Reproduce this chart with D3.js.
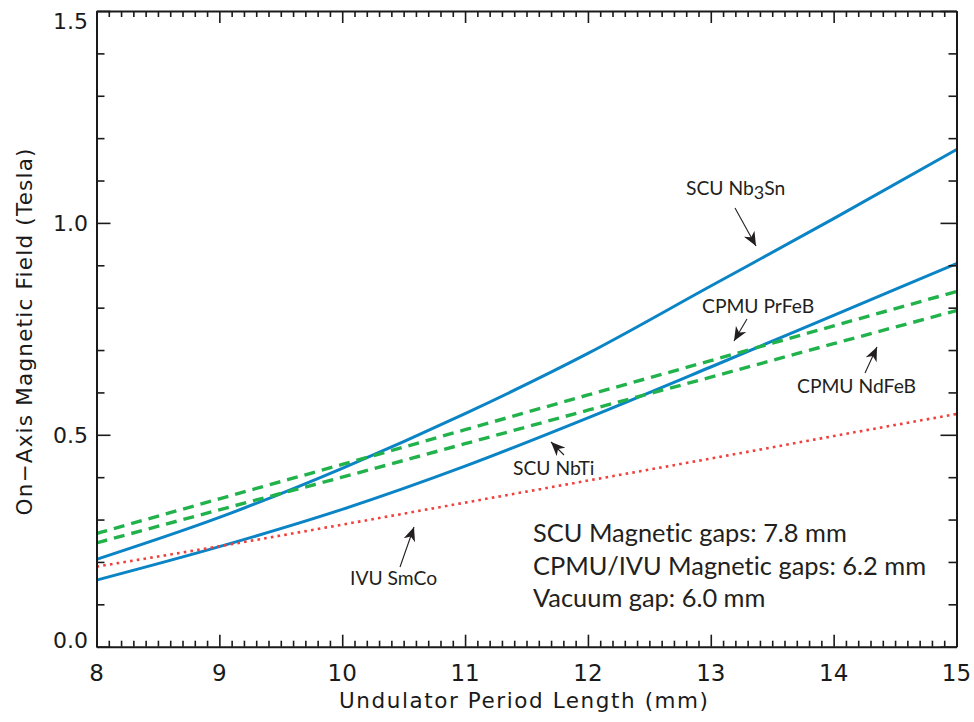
<!DOCTYPE html>
<html>
<head>
<meta charset="utf-8">
<script src="https://cdn.jsdelivr.net/npm/d3@7"></script>
<style>
  html, body { margin: 0; padding: 0; background: #fff; }
  svg { display: block; }
  text { font-variant-ligatures: none; font-feature-settings: "liga" 0; }
</style>
</head>
<body>
<div id="chart"></div>
<script>
// Undulator period (mm)
const periods = [8, 9, 10, 11, 12, 13, 14, 15];

// On-axis field (T) for each device
const scuNb3Sn  = [0.206, 0.305, 0.421, 0.550, 0.692, 0.851, 1.010, 1.173];
const scuNbTi   = [0.157, 0.236, 0.324, 0.426, 0.540, 0.660, 0.782, 0.904];
const cpmuPrFeB = [0.267, 0.349, 0.430, 0.512, 0.594, 0.675, 0.757, 0.838];
const cpmuNdFeB = [0.245, 0.323, 0.400, 0.479, 0.558, 0.636, 0.715, 0.793];
const ivuSmCo   = [0.189, 0.237, 0.288, 0.340, 0.392, 0.444, 0.497, 0.549];

const xTickLabels = [8, 9, 10, 11, 12, 13, 14, 15];
const yTickLabels = [0.0, 0.5, 1.0, 1.5];

const notes = [
  "SCU Magnetic gaps: 7.8 mm",
  "CPMU/IVU Magnetic gaps: 6.2 mm",
  "Vacuum gap: 6.0 mm"
];

const W = 974, H = 722;
const mLeft = 96.5, mRight = 956.5, mTop = 11, mBottom = 646.7;

const svg = d3.select("#chart").append("svg")
  .attr("width", W).attr("height", H);

const x = d3.scaleLinear().domain([8, 15]).range([mLeft, mRight]);
const y = d3.scaleLinear().domain([0, 1.5]).range([mBottom, mTop]);

const axisColor = "#1a1a1a";
const labelFont = "'DejaVu Sans', sans-serif";
const noteFont = "Lato, 'Open Sans', sans-serif";
const noteColor = "#231f20";

const defs = svg.append("defs");

// clip so curves stop at the frame
defs.append("clipPath").attr("id", "plotClip")
  .append("rect").attr("x", mLeft).attr("y", mTop)
  .attr("width", mRight - mLeft).attr("height", mBottom - mTop);

// ---- series ----
const series = [
  { vals: scuNb3Sn,  color: "#0b84c6", width: 3,   dash: null },
  { vals: scuNbTi,   color: "#0b84c6", width: 3,   dash: null },
  { vals: cpmuPrFeB, color: "#22b24c", width: 3.4, dash: "11,7" },
  { vals: cpmuNdFeB, color: "#22b24c", width: 3.4, dash: "11,7" },
  { vals: ivuSmCo,   color: "#f0403c", width: 2.6, dash: "2.6,4.2" }
];

const line = d3.line()
  .x(d => x(d[0])).y(d => y(d[1]))
  .curve(d3.curveMonotoneX);

const plot = svg.append("g").attr("clip-path", "url(#plotClip)");
series.forEach(s => {
  plot.append("path")
    .datum(periods.map((p, i) => [p, s.vals[i]]))
    .attr("d", line)
    .attr("fill", "none")
    .attr("stroke", s.color)
    .attr("stroke-width", s.width)
    .attr("stroke-dasharray", s.dash)
    .attr("stroke-linecap", "butt");
});

// ---- axes (frame with inward ticks on all four sides) ----
const xMinor = d3.range(80, 151).map(v => v / 10);
const yMinor = d3.range(0, 16).map(v => v / 10);

const bottomAxis = d3.axisBottom(x).tickValues(xMinor)
  .tickSizeInner(-6).tickSizeOuter(0).tickFormat("");
const topAxis = d3.axisTop(x).tickValues(xMinor)
  .tickSizeInner(-6).tickSizeOuter(0).tickFormat("");
const leftAxis = d3.axisLeft(y).tickValues(yMinor)
  .tickSizeInner(-8).tickSizeOuter(0).tickFormat("");
const rightAxis = d3.axisRight(y).tickValues(yMinor)
  .tickSizeInner(-8).tickSizeOuter(0).tickFormat("");

function styleAxis(g, majorTest, majorLen, dir) {
  g.select(".domain").attr("stroke", axisColor).attr("stroke-width", 2);
  g.selectAll(".tick line")
    .attr("stroke", axisColor).attr("stroke-width", 1.6)
    .each(function(d) {
      if (majorTest(d)) {
        const sel = d3.select(this);
        if (dir === "y") sel.attr("y2", majorLen); else sel.attr("x2", majorLen);
      }
    });
}
const isIntX = d => Math.abs(d - Math.round(d)) < 1e-6;
const isHalfY = d => Math.abs(d * 2 - Math.round(d * 2)) < 1e-6;

svg.append("g").attr("transform", `translate(0,${mBottom})`).call(bottomAxis)
  .call(g => styleAxis(g, isIntX, -12, "y"));
svg.append("g").attr("transform", `translate(0,${mTop})`).call(topAxis)
  .call(g => styleAxis(g, isIntX, 12, "y"));
svg.append("g").attr("transform", `translate(${mLeft},0)`).call(leftAxis)
  .call(g => styleAxis(g, isHalfY, 14, "x"));
svg.append("g").attr("transform", `translate(${mRight},0)`).call(rightAxis)
  .call(g => styleAxis(g, isHalfY, -16, "x"));

// tick labels
svg.append("g").selectAll("text").data(xTickLabels).join("text")
  .attr("x", d => x(d)).attr("y", 681)
  .attr("text-anchor", "middle")
  .attr("font-family", labelFont).attr("font-size", 23)
  .attr("fill", axisColor)
  .text(d => d);

svg.append("g").selectAll("text").data(yTickLabels).join("text")
  .attr("x", 88)
  .attr("y", d => Math.min(mBottom - 7, Math.max(mTop + 10, y(d))))
  .attr("dy", "0.36em")
  .attr("text-anchor", "end")
  .attr("font-family", labelFont).attr("font-size", 22)
  .attr("fill", axisColor)
  .text(d => d.toFixed(1));

// axis titles
svg.append("text")
  .attr("x", (339 + 708) / 2).attr("y", 708)
  .attr("text-anchor", "middle")
  .attr("font-family", labelFont).attr("font-size", 21.5)
  .attr("fill", axisColor)
  .attr("textLength", 369).attr("lengthAdjust", "spacing")
  .text("Undulator Period Length (mm)");

svg.append("text")
  .attr("transform", "translate(32,332) rotate(-90)")
  .attr("text-anchor", "middle")
  .attr("font-family", labelFont).attr("font-size", 21.5)
  .attr("fill", axisColor)
  .attr("textLength", 367).attr("lengthAdjust", "spacing")
  .text("On\u2212Axis Magnetic Field (Tesla)");

// ---- annotations ----
defs.append("marker")
  .attr("id", "head")
  .attr("markerUnits", "userSpaceOnUse")
  .attr("viewBox", "-14 -7 16 14")
  .attr("refX", 0).attr("refY", 0)
  .attr("markerWidth", 16).attr("markerHeight", 14)
  .attr("orient", "auto")
  .append("path")
  .attr("d", "M0,0 L-14,-6 L-10,0 L-14,6 Z")
  .attr("fill", noteColor);

const callouts = [
  { text: ["SCU Nb", "3", "Sn"], tx: 686, ty: 195, a: [735, 208, 756, 246] },
  { text: ["CPMU PrFeB"],        tx: 702, ty: 313, a: [747, 319, 734, 341] },
  { text: ["CPMU NdFeB"],        tx: 797, ty: 393, a: [865, 373, 877, 347] },
  { text: ["SCU NbTi"],          tx: 513, ty: 475, a: [564, 455, 551, 442] },
  { text: ["IVU SmCo"],          tx: 350, ty: 585, a: [400, 567, 414, 527] }
];

callouts.forEach(c => {
  const t = svg.append("text")
    .attr("x", c.tx).attr("y", c.ty)
    .attr("font-family", noteFont).attr("font-size", 19.3)
    .attr("fill", noteColor);
  if (c.text.length === 3) {
    t.append("tspan").text(c.text[0]);
    t.append("tspan").attr("dy", 4).attr("font-size", 18).text(c.text[1]);
    t.append("tspan").attr("dy", -4).text(c.text[2]);
  } else {
    t.text(c.text[0]);
  }
  svg.append("line")
    .attr("x1", c.a[0]).attr("y1", c.a[1])
    .attr("x2", c.a[2]).attr("y2", c.a[3])
    .attr("stroke", noteColor).attr("stroke-width", 1.1)
    .attr("marker-end", "url(#head)");
});

svg.append("g").selectAll("text").data(notes).join("text")
  .attr("x", 533).attr("y", (d, i) => 542 + i * 32.5)
  .attr("font-family", noteFont).attr("font-size", 25.4)
  .attr("fill", noteColor)
  .text(d => d);
</script>
</body>
</html>
